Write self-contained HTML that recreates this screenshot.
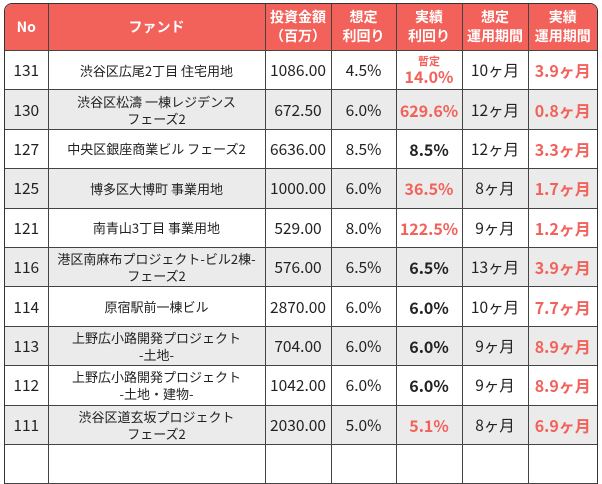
<!DOCTYPE html>
<html><head><meta charset="utf-8"><style>
html,body{margin:0;padding:0;background:#fff;width:602px;height:451px;overflow:hidden}
.wrap{position:absolute;left:4px;top:3px;width:592px;border:1.5px solid #333;border-radius:8px 8px 0 0;overflow:hidden;border-bottom:none}
table{border-collapse:collapse;table-layout:fixed;width:592px;font-family:"Noto Sans CJK JP","Liberation Sans",sans-serif;font-size:15.5px;color:#222}
td,th{border:1px solid #444;text-align:center;vertical-align:middle;padding:0;line-height:18px;white-space:nowrap;overflow:hidden}
tr:first-child th{border-top:none}
tr td:first-child,tr th:first-child{border-left:none}
tr td:last-child,tr th:last-child{border-right:none}
th{background:#f2615a;color:#fff;font-weight:bold;font-size:14px;height:46px;line-height:19px}
td{height:38.4px}
tr.g td{background:#ebebeb}
.r{color:#f2615a;font-weight:bold;font-size:16px}
.b{font-weight:bold;font-size:16px}
.s{font-size:11px;line-height:12px;display:block}
.f{font-size:13px;line-height:17px}
</style></head><body><div class="wrap"><table>
<colgroup><col style="width:43px"><col style="width:217px"><col style="width:66px"><col style="width:65px"><col style="width:66px"><col style="width:66px"><col style="width:69px"></colgroup>
<tr><th>No</th><th>ファンド</th><th>投資金額<br>（百万）</th><th>想定<br>利回り</th><th>実績<br>利回り</th><th>想定<br>運用期間</th><th>実績<br>運用期間</th></tr>
<tr><td>131</td><td class="f">渋谷区広尾2丁目 住宅用地</td><td>1086.00</td><td>4.5%</td><td class="r"><span class="s">暫定</span>14.0%</td><td>10ヶ月</td><td class="r">3.9ヶ月</td></tr>
<tr class="g"><td>130</td><td class="f">渋谷区松濤 一棟レジデンス<br>フェーズ2</td><td>672.50</td><td>6.0%</td><td class="r">629.6%</td><td>12ヶ月</td><td class="r">0.8ヶ月</td></tr>
<tr><td>127</td><td class="f">中央区銀座商業ビル フェーズ2</td><td>6636.00</td><td>8.5%</td><td class="b">8.5%</td><td>12ヶ月</td><td class="r">3.3ヶ月</td></tr>
<tr class="g"><td>125</td><td class="f">博多区大博町 事業用地</td><td>1000.00</td><td>6.0%</td><td class="r">36.5%</td><td>8ヶ月</td><td class="r">1.7ヶ月</td></tr>
<tr><td>121</td><td class="f">南青山3丁目 事業用地</td><td>529.00</td><td>8.0%</td><td class="r">122.5%</td><td>9ヶ月</td><td class="r">1.2ヶ月</td></tr>
<tr class="g"><td>116</td><td class="f">港区南麻布プロジェクト-ビル2棟-<br>フェーズ2</td><td>576.00</td><td>6.5%</td><td class="b">6.5%</td><td>13ヶ月</td><td class="r">3.9ヶ月</td></tr>
<tr><td>114</td><td class="f">原宿駅前一棟ビル</td><td>2870.00</td><td>6.0%</td><td class="b">6.0%</td><td>10ヶ月</td><td class="r">7.7ヶ月</td></tr>
<tr class="g"><td>113</td><td class="f">上野広小路開発プロジェクト<br>-土地-</td><td>704.00</td><td>6.0%</td><td class="b">6.0%</td><td>9ヶ月</td><td class="r">8.9ヶ月</td></tr>
<tr><td>112</td><td class="f">上野広小路開発プロジェクト<br>-土地・建物-</td><td>1042.00</td><td>6.0%</td><td class="b">6.0%</td><td>9ヶ月</td><td class="r">8.9ヶ月</td></tr>
<tr class="g"><td>111</td><td class="f">渋谷区道玄坂プロジェクト<br>フェーズ2</td><td>2030.00</td><td>5.0%</td><td class="r">5.1%</td><td>8ヶ月</td><td class="r">6.9ヶ月</td></tr>
<tr><td>&nbsp;</td><td></td><td></td><td></td><td></td><td></td><td></td></tr>
</table></div></body></html>
